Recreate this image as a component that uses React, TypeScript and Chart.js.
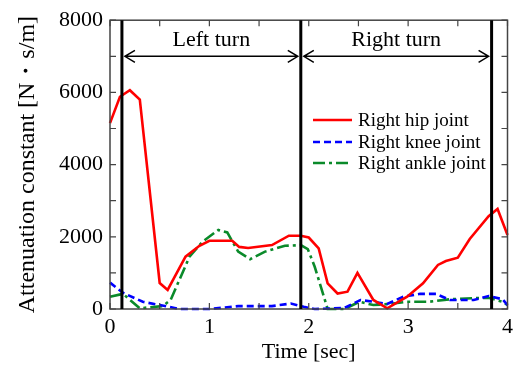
import { useEffect, useRef } from "react";
import { Chart, registerables } from "chart.js";
Chart.register(...registerables);

const hipTime = [0, 0.1, 0.2, 0.3, 0.5, 0.58, 0.76, 0.9, 1.0, 1.23, 1.3, 1.39, 1.63, 1.8, 1.92, 2.0, 2.1, 2.19, 2.29, 2.39, 2.49, 2.65, 2.79, 2.99, 3.15, 3.3, 3.38, 3.5, 3.62, 3.81, 3.9, 4.0];
const hipValue = [5150, 5880, 6060, 5800, 720, 530, 1450, 1750, 1890, 1890, 1720, 1690, 1770, 2030, 2030, 1980, 1680, 710, 430, 480, 1000, 250, 20, 340, 710, 1220, 1330, 1420, 1940, 2570, 2770, 2050];

const kneeTime = [0, 0.13, 0.33, 0.5, 0.7, 1.0, 1.29, 1.63, 1.82, 1.95, 2.06, 2.36, 2.52, 2.65, 2.79, 2.95, 3.12, 3.28, 3.42, 3.66, 3.81, 3.95, 4.0];
const kneeValue = [730, 450, 200, 110, 0, 0, 80, 80, 150, 60, 0, 30, 250, 200, 140, 340, 420, 420, 250, 250, 360, 270, 110];

const ankleTime = [0, 0.13, 0.3, 0.53, 0.61, 0.8, 0.93, 1.09, 1.18, 1.29, 1.41, 1.56, 1.76, 1.92, 1.99, 2.06, 2.19, 2.36, 2.51, 2.65, 2.82, 2.99, 3.21, 3.42, 3.68, 3.81, 3.95, 4.0];
const ankleValue = [340, 420, 20, 80, 250, 1450, 1860, 2190, 2120, 1590, 1380, 1590, 1750, 1770, 1660, 1170, 0, 0, 200, 110, 140, 200, 200, 270, 300, 310, 200, 110];

const seriesNames = ["Right hip joint", "Right knee joint", "Right ankle joint"];
const turnTimes = [0.12, 1.92, 3.84];
const turnLabels = ["Left turn", "Right turn"];
const arrowLevel = 7000;
const labelLevel = 7450;

const xTicks = [0, 1, 2, 3, 4];
const yTicks = [0, 2000, 4000, 6000, 8000];

const FONT = "'Liberation Serif', 'Times New Roman', serif";
const colors = ["#ff0000", "#0000ff", "#0a8a2a"];
const dashes: number[][] = [[], [7, 4], [12, 4, 3, 4]];

const toPts = (t: number[], v: number[]) => t.map((x, i) => ({ x, y: v[i] }));

const decorPlugin = {
  id: "decor",
  afterDatasetsDraw(chart: any) {
    const { ctx, chartArea: a, scales } = chart;
    const xs = scales.x;
    const ys = scales.y;
    ctx.save();
    ctx.strokeStyle = "#444";
    ctx.lineWidth = 1.5;
    ctx.setLineDash([]);
    ctx.strokeRect(a.left, a.top, a.right - a.left, a.bottom - a.top);
    ctx.lineWidth = 1.2;
    for (let v = 0; v <= 8000; v += 1000) {
      const y = ys.getPixelForValue(v);
      ctx.beginPath();
      ctx.moveTo(a.left, y); ctx.lineTo(a.left + 6, y);
      ctx.moveTo(a.right, y); ctx.lineTo(a.right - 6, y);
      ctx.stroke();
    }
    for (let t = 0; t <= 4; t += 0.5) {
      const x = xs.getPixelForValue(t);
      ctx.beginPath();
      ctx.moveTo(x, a.bottom); ctx.lineTo(x, a.bottom - 6);
      ctx.moveTo(x, a.top); ctx.lineTo(x, a.top + 6);
      ctx.stroke();
    }
    ctx.strokeStyle = "#000";
    ctx.lineWidth = 3;
    turnTimes.forEach((t) => {
      const x = xs.getPixelForValue(t);
      ctx.beginPath();
      ctx.moveTo(x, a.top);
      ctx.lineTo(x, a.bottom);
      ctx.stroke();
    });
    const ay = ys.getPixelForValue(arrowLevel);
    const ty = ys.getPixelForValue(labelLevel);
    ctx.lineWidth = 1.5;
    for (let i = 0; i < turnLabels.length; i++) {
      const x1 = xs.getPixelForValue(turnTimes[i]) + 3;
      const x2 = xs.getPixelForValue(turnTimes[i + 1]) - 3;
      ctx.beginPath();
      ctx.moveTo(x1, ay); ctx.lineTo(x2, ay);
      ctx.moveTo(x1 + 10, ay - 6); ctx.lineTo(x1, ay); ctx.lineTo(x1 + 10, ay + 6);
      ctx.moveTo(x2 - 10, ay - 6); ctx.lineTo(x2, ay); ctx.lineTo(x2 - 10, ay + 6);
      ctx.stroke();
      ctx.fillStyle = "#000";
      ctx.font = `22px ${FONT}`;
      ctx.textAlign = "center";
      ctx.textBaseline = "middle";
      ctx.fillText(turnLabels[i], (x1 + x2) / 2, ty);
    }
    const lx = a.left + 203;
    const rows = [120, 142, 163];
    ctx.font = `19px ${FONT}`;
    ctx.textAlign = "left";
    ctx.textBaseline = "middle";
    seriesNames.forEach((name, i) => {
      const y = rows[i];
      ctx.strokeStyle = colors[i];
      ctx.lineWidth = 2.5;
      ctx.setLineDash(dashes[i]);
      ctx.beginPath();
      ctx.moveTo(lx, y); ctx.lineTo(lx + 39, y);
      ctx.stroke();
      ctx.setLineDash([]);
      ctx.fillStyle = "#000";
      ctx.fillText(name, lx + 45, y + 1);
    });
    ctx.restore();
  },
};

export default function App() {
  const ref = useRef<HTMLCanvasElement>(null);
  useEffect(() => {
    if (!ref.current) return;
    const series = [
      toPts(hipTime, hipValue),
      toPts(kneeTime, kneeValue),
      toPts(ankleTime, ankleValue),
    ];
    const chart = new Chart(ref.current, {
      type: "line",
      data: {
        datasets: series.map((d, i) => ({
          label: seriesNames[i],
          data: d,
          borderColor: colors[i],
          borderWidth: 2.6,
          borderDash: dashes[i],
          pointRadius: 0,
          tension: 0,
          fill: false,
          clip: 4,
        })),
      },
      options: {
        responsive: false,
        animation: false,
        layout: { padding: { top: 20, right: 5, left: 0, bottom: 0 } },
        plugins: { legend: { display: false }, tooltip: { enabled: false } },
        scales: {
          x: {
            type: "linear",
            min: 0,
            max: 4,
            afterBuildTicks: (s: any) => { s.ticks = xTicks.map((v) => ({ value: v })); },
            afterFit: (s: any) => { s.height = 58; },
            grid: { display: false, drawTicks: false },
            border: { display: false },
            ticks: { color: "#000", padding: 5, font: { family: FONT, size: 22 }, callback: (v: any) => String(v) },
            title: {
              display: true,
              text: "Time [sec]",
              color: "#000",
              padding: { top: 0, bottom: 2 },
              font: { family: FONT, size: 22 },
            },
          },
          y: {
            type: "linear",
            min: 0,
            max: 8000,
            afterBuildTicks: (s: any) => { s.ticks = yTicks.map((v) => ({ value: v })); },
            afterFit: (s: any) => { s.width = 110; },
            grid: { display: false, drawTicks: false },
            border: { display: false },
            ticks: { color: "#000", padding: 7, font: { family: FONT, size: 22 }, callback: (v: any) => String(v) },
            title: {
              display: true,
              text: "Attenuation constant [N・s/m]",
              color: "#000",
              padding: { top: 13, bottom: 0 },
              font: { family: FONT, size: 24 },
            },
          },
        },
      },
      plugins: [decorPlugin],
    } as any);
    return () => chart.destroy();
  }, []);
  return (
    <div style={{ position: "fixed", left: 0, top: 0, width: 518, height: 367, background: "#fff" }}>
      <canvas ref={ref} width={518} height={367} />
    </div>
  );
}
